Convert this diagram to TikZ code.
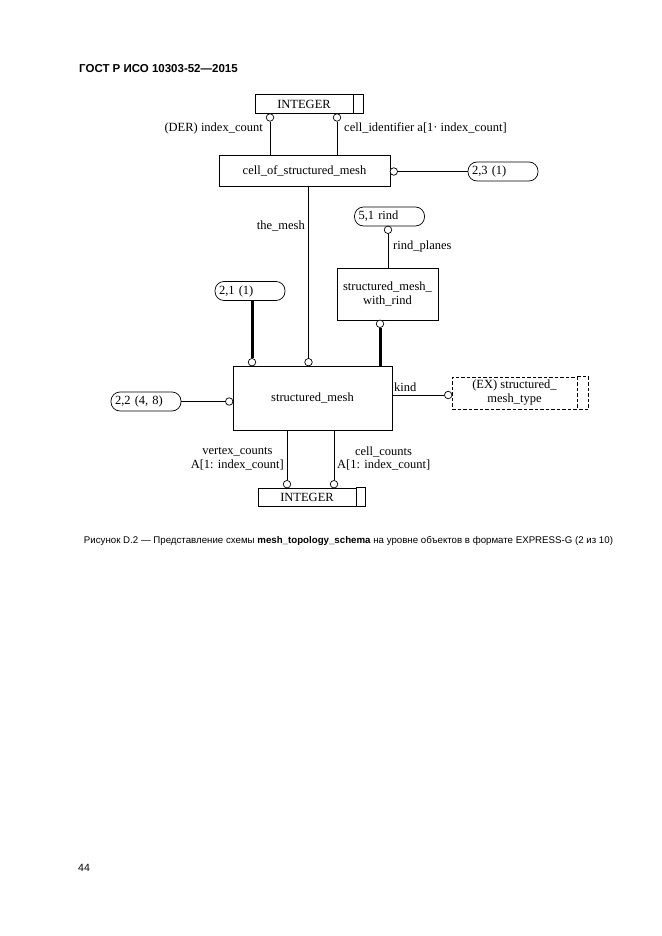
\documentclass[tikz,border=0pt]{standalone}
\usepackage{fontspec}
\setmainfont{Liberation Serif}
\newfontfamily\hdrsans{Liberation Sans}
\newcommand\dgfont{\fontsize{12.5}{14}\selectfont}
\begin{document}
\begin{tikzpicture}[x=1pt,y=-1pt,
  ent/.style={draw, line width=0.7pt, inner sep=0pt, font=\dgfont, align=center},
  refbox/.style={draw, rounded corners=9pt, line width=0.7pt, minimum height=19pt, inner xsep=4pt, inner ysep=0pt, text width=62pt, align=left, font=\dgfont},
  ring/.style={draw, circle, minimum size=7.5pt, inner sep=0pt, line width=0.7pt, fill=white},
  lnk/.style={line width=0.7pt},
  thk/.style={line width=3pt},
  lbl/.style={font=\dgfont, inner sep=0pt},
  dsh/.style={dash pattern=on 3.5pt off 2pt}
]
\fill[white] (0,0) rectangle (661,936);
\useasboundingbox (0,0) rectangle (661,936);

% header and footer
\node[anchor=west, inner sep=0pt, font=\hdrsans\bfseries\fontsize{11.5}{13}\selectfont] (hdr) at (79,69) {ГОСТ Р ИСО 10303-52—2015};
\node[inner sep=0pt, font=\hdrsans\fontsize{9.7}{12}\selectfont] (cap) at (348.5,541) {Рисунок D.2 — Представление схемы \textbf{mesh\_topology\_schema} на уровне объектов в формате EXPRESS-G (2 из 10)};
\node[anchor=west, inner sep=0pt, font=\hdrsans\fontsize{10.5}{12}\selectfont] (pg) at (78,868) {44};

% top INTEGER
\node[ent, minimum width=98pt, minimum height=19pt] (intA) at (304,104) {INTEGER};
\draw[lnk] (intA.north east) -- ++(10,0) |- (intA.south east);
\node[ring] (rA1) at (270,117.5) {};
\node[ring] (rA2) at (337,117.5) {};
\node[lbl, anchor=east] (lDer) at (263,128) {(DER) index\_count};
\node[lbl, anchor=west] (lCid) at (344,128) {cell\_identifier a[1· index\_count]};

% cell_of_structured_mesh
\node[ent, minimum width=171pt, minimum height=31pt] (cell) at (304.5,170.5) {cell\_of\_structured\_mesh};
\draw[lnk] (rA1) -- (rA1 |- cell.north);
\draw[lnk] (rA2) -- (rA2 |- cell.north);
\node[ring] (rC) at (393.8,171.5) {};
\node[refbox] (r23) at (503,171.5) {2,3 (1)};
\draw[lnk] (rC) -- (r23);

% structured_mesh
\node[ent, minimum width=159pt, minimum height=64pt] (sm) at (312.5,398) {structured\_mesh};
\node[ring] (rM1) at (252,362.2) {};
\node[ring] (rM2) at (308.5,362.2) {};
\draw[lnk] (cell.south -| rM2) -- (rM2);
\node[lbl, anchor=east] (lMesh) at (305,226) {the\_mesh};

% rind
\node[refbox] (r51) at (389.5,216.5) {5,1 rind};
\node[ring] (rR) at (388,229.8) {};
\node[ent, minimum width=101pt, minimum height=52pt] (smwr) at (387.5,294) {structured\_mesh\_\\with\_rind};
\draw[lnk] (rR) -- (rR |- smwr.north);
\node[lbl, anchor=west] (lRind) at (393,246) {rind\_planes};
\node[ring] (rW) at (380,323.8) {};
\draw[thk] (rW) -- (rW |- sm.north);

% 2,1 (1)
\node[refbox] (r21) at (250,291) {2,1 (1)};
\draw[thk] (r21.south -| rM1) -- (rM1);

% 2,2 (4, 8)
\node[refbox] (r22) at (146,401.5) {2,2 (4, 8)};
\node[ring] (rL) at (229.2,401.5) {};
\draw[lnk] (r22) -- (rL);

% kind
\node[ring] (rK) at (448.2,395) {};
\draw[lnk] (sm.east |- rK) -- (rK);
\node[lbl, anchor=west] (lKind) at (394,387) {kind};
\node[ent, dsh, minimum width=125pt, minimum height=32pt] (ex) at (514.5,393) {(EX) structured\_\\mesh\_type};
\draw[lnk, dsh] (ex.north east) -- ++(11,0) |- (ex.south east);

% bottom INTEGER
\node[ent, minimum width=98pt, minimum height=18pt] (intB) at (307,497) {INTEGER};
\draw[lnk] (intB.north east) -- ++(9,0) |- (intB.south east);
\node[ring] (rV) at (287,484.2) {};
\node[ring] (rCc) at (334,484.2) {};
\draw[lnk] (sm.south -| rV) -- (rV);
\draw[lnk] (sm.south -| rCc) -- (rCc);
\node[lbl] (lVc) at (237.5,452) {vertex\_counts};
\node[lbl, anchor=east] (lVa) at (284,465) {A[1: index\_count]};
\node[lbl] (lCc) at (383.5,452) {cell\_counts};
\node[lbl, anchor=west] (lCa) at (337,465) {A[1: index\_count]};
\end{tikzpicture}
\end{document}
